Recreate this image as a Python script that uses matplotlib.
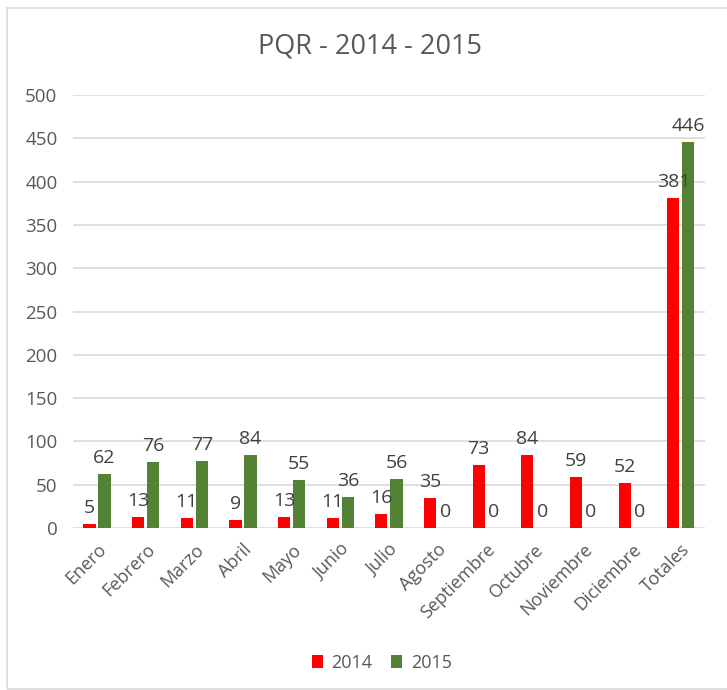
import matplotlib
matplotlib.use('Agg')
import matplotlib.pyplot as plt
from matplotlib.patches import Rectangle
import numpy as np

# Chart data
months = ['Enero', 'Febrero', 'Marzo', 'Abril', 'Mayo', 'Junio', 'Julio',
          'Agosto', 'Septiembre', 'Octubre', 'Noviembre', 'Diciembre', 'Totales']
values_2014 = [5, 13, 11, 9, 13, 11, 16, 35, 73, 84, 59, 52, 381]
values_2015 = [62, 76, 77, 84, 55, 36, 56, 0, 0, 0, 0, 0, 446]
series_names = ['2014', '2015']
y_ticks = [0, 50, 100, 150, 200, 250, 300, 350, 400, 450, 500]

RED = '#FF0000'
GREEN = '#548235'
TEXT = '#595959'
GRID = '#D9D9D9'

plt.rcParams['font.family'] = ['Open Sans', 'DejaVu Sans']

fig = plt.figure(figsize=(7.27, 6.90), dpi=100)
ax = fig.add_axes([0.100, 0.235, 0.870, 0.627])

# outer chart frame
fig.patches.append(Rectangle((0.010, 0.002), 0.995, 0.986, transform=fig.transFigure,
                             fill=False, edgecolor=GRID, linewidth=1.2))

x = np.arange(len(months))
width = 0.25
offset = 0.155
bars14 = ax.bar(x - offset, values_2014, width, color=RED, label=series_names[0], zorder=3)
bars15 = ax.bar(x + offset, values_2015, width, color=GREEN, label=series_names[1], zorder=3)

# value labels above the bars
for bars in (bars14, bars15):
    for b in bars:
        h = b.get_height()
        ax.annotate(f'{int(h)}', xy=(b.get_x() + b.get_width() / 2, h),
                    xytext=(0, 5), textcoords='offset points',
                    ha='center', va='bottom', fontsize=14, color='#404040', zorder=4)

ax.set_xlim(-0.5, len(months) - 0.5)
ax.set_ylim(0, 500)
ax.set_yticks(y_ticks)
ax.set_xticks(x)
ax.set_xticklabels(months, rotation=45, ha='right', rotation_mode='anchor')
ax.tick_params(axis='both', length=0, labelsize=13.5, colors=TEXT)
ax.tick_params(axis='x', pad=9, labelsize=13)
ax.tick_params(axis='y', pad=11)
ax.yaxis.grid(True, color=GRID, linewidth=1.2, zorder=0)
for s in ax.spines.values():
    s.set_visible(False)

# title centred on the chart area, like the spreadsheet chart
fig.text(0.509, 0.932, 'PQR - 2014 - 2015', fontsize=19.5, color=TEXT,
         ha='center', va='center')

fig.legend(loc='lower center', bbox_to_anchor=(0.525, 0.003), ncol=2, frameon=False,
           fontsize=13, labelcolor=TEXT, handlelength=0.6, handleheight=0.7,
           columnspacing=1.0, handletextpad=0.5)

plt.savefig('out.png', dpi=100)
